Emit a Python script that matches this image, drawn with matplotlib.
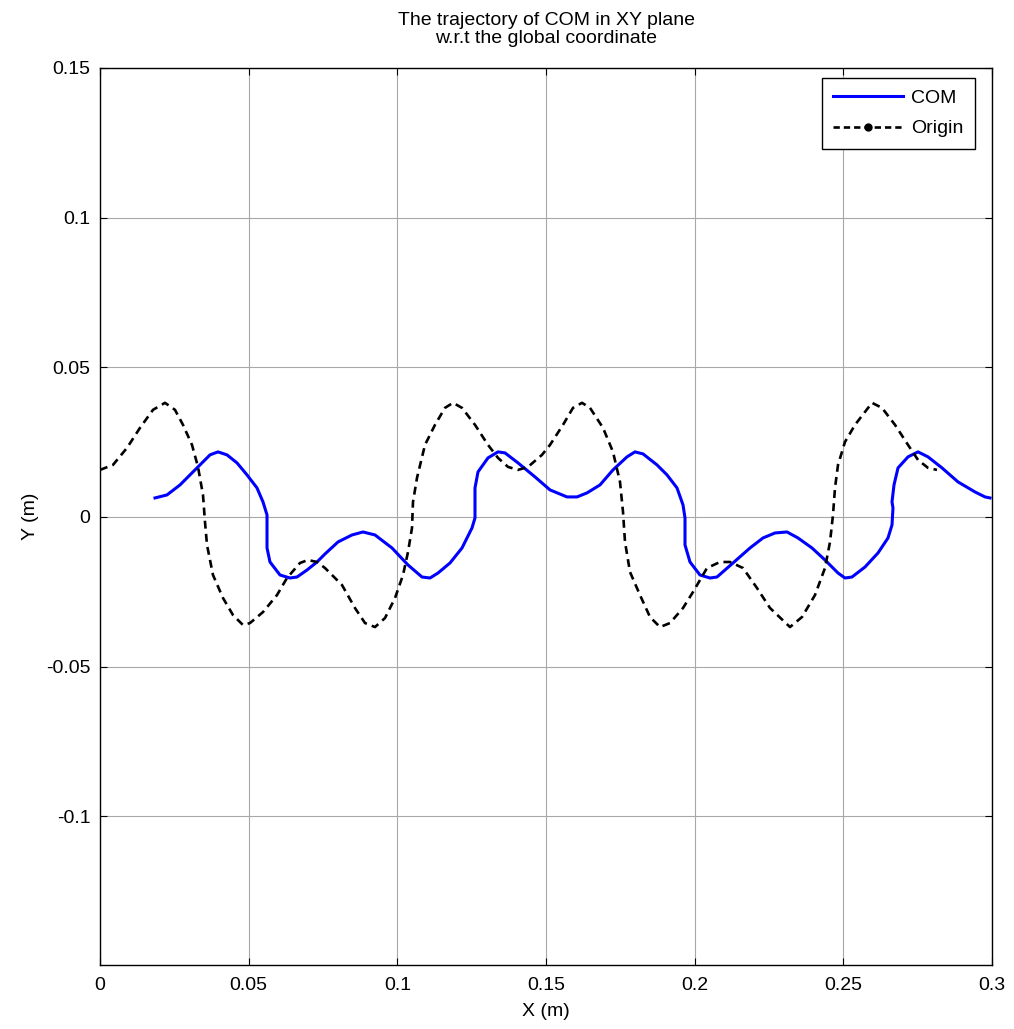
import numpy as np
import matplotlib.pyplot as plt
from matplotlib.lines import Line2D

plt.rcParams['font.family'] = ['Liberation Sans', 'DejaVu Sans']

# origin trajectory (black dashed)
origin_x = [0.0, 0.00437, 0.00908, 0.01345, 0.01782, 0.02186, 0.02522, 0.02791, 0.03094, 0.03296,
            0.03464, 0.03531, 0.03599, 0.03800, 0.04137, 0.04473, 0.04809, 0.05045, 0.05482, 0.05953,
            0.06289, 0.06726, 0.06996, 0.07298, 0.07567, 0.08139, 0.08576, 0.08913, 0.09249, 0.09585,
            0.09922, 0.10191, 0.10359, 0.10493, 0.10527, 0.10661, 0.10930, 0.11267, 0.11603, 0.11872,
            0.12175, 0.12612, 0.13049, 0.13386, 0.13722, 0.14058, 0.14395, 0.14865, 0.15135, 0.15572,
            0.15908, 0.16211, 0.16480, 0.16917, 0.17253, 0.17489, 0.17590, 0.17657, 0.17825, 0.18161,
            0.18498, 0.18834, 0.19170, 0.19608, 0.19944, 0.20415, 0.20852, 0.21188, 0.21625, 0.22096,
            0.22534, 0.23206, 0.23610, 0.24047, 0.24383, 0.24552, 0.24652, 0.24720, 0.24821, 0.25056,
            0.25392, 0.25964, 0.26300, 0.26738, 0.27175, 0.27511, 0.27848, 0.28150]
origin_y = [0.01572, 0.01739, 0.02308, 0.02977, 0.03579, 0.03813, 0.03579, 0.03077, 0.02408, 0.01672,
            0.00736, -0.00167, -0.00936, -0.01940, -0.02709, -0.03278, -0.03612, -0.03545, -0.03177, -0.02609,
            -0.02040, -0.01538, -0.01438, -0.01505, -0.01706, -0.02274, -0.03043, -0.03545, -0.03679, -0.03378,
            -0.02709, -0.01940, -0.01171, -0.00368, 0.00502, 0.01304, 0.02408, 0.03077, 0.03645, 0.03813,
            0.03645, 0.03077, 0.02408, 0.01973, 0.01672, 0.01572, 0.01672, 0.02074, 0.02408, 0.03077,
            0.03645, 0.03813, 0.03645, 0.02977, 0.02174, 0.01171, 0.00167, -0.00836, -0.01839, -0.02609,
            -0.03344, -0.03679, -0.03545, -0.03043, -0.02508, -0.01706, -0.01505, -0.01505, -0.01706, -0.02375,
            -0.03043, -0.03679, -0.03344, -0.02609, -0.01706, -0.00836, 0.00067, 0.00970, 0.01739, 0.02508,
            0.03077, 0.03813, 0.03645, 0.03077, 0.02408, 0.01906, 0.01639, 0.01572]

# COM trajectory (blue)
com_x = [0.01850, 0.02253, 0.02691, 0.03027, 0.03363, 0.03700, 0.03969, 0.04271, 0.04608, 0.04944,
         0.05280, 0.05482, 0.05617, 0.05617, 0.05717, 0.06054, 0.06390, 0.06626, 0.06962, 0.07298,
         0.07567, 0.08004, 0.08475, 0.08845, 0.09249, 0.09821, 0.10359, 0.10830, 0.11099, 0.11368,
         0.11771, 0.12175, 0.12511, 0.12612, 0.12612, 0.12713, 0.13049, 0.13386, 0.13621, 0.14058,
         0.14630, 0.15135, 0.15706, 0.16043, 0.16379, 0.16816, 0.17253, 0.17724, 0.17993, 0.18262,
         0.18733, 0.19070, 0.19406, 0.19608, 0.19675, 0.19675, 0.19843, 0.20179, 0.20516, 0.20751,
         0.21289, 0.21861, 0.22298, 0.22702, 0.23105, 0.23475, 0.23946, 0.24383, 0.24821, 0.25056,
         0.25291, 0.25729, 0.26166, 0.26502, 0.26637, 0.26670, 0.26637, 0.26704, 0.26839, 0.27175,
         0.27511, 0.27848, 0.28318, 0.28856, 0.29428, 0.29764, 0.29933]
com_y = [0.00635, 0.00736, 0.01070, 0.01405, 0.01739, 0.02074, 0.02174, 0.02074, 0.01806, 0.01405,
         0.00970, 0.00502, 0.00067, -0.01037, -0.01505, -0.01940, -0.02040, -0.02007, -0.01773, -0.01505,
         -0.01237, -0.00836, -0.00602, -0.00502, -0.00602, -0.01037, -0.01605, -0.02007, -0.02040, -0.01873,
         -0.01538, -0.01037, -0.00368, -0.00033, 0.00970, 0.01505, 0.01973, 0.02174, 0.02140, 0.01806,
         0.01338, 0.00903, 0.00669, 0.00669, 0.00803, 0.01070, 0.01572, 0.02007, 0.02174, 0.02107,
         0.01739, 0.01405, 0.00970, 0.00401, -0.00033, -0.00936, -0.01505, -0.01940, -0.02040, -0.02007,
         -0.01538, -0.01037, -0.00702, -0.00535, -0.00502, -0.00702, -0.01037, -0.01438, -0.01873, -0.02040,
         -0.02007, -0.01672, -0.01204, -0.00702, -0.00268, 0.00301, 0.00502, 0.01070, 0.01639, 0.02007,
         0.02174, 0.02007, 0.01639, 0.01171, 0.00836, 0.00669, 0.00635]

xticks = [0, 0.05, 0.1, 0.15, 0.2, 0.25, 0.3]
xticklabels = ['0', '0.05', '0.1', '0.15', '0.2', '0.25', '0.3']
yticks = [-0.1, -0.05, 0, 0.05, 0.1, 0.15]
yticklabels = ['-0.1', '-0.05', '0', '0.05', '0.1', '0.15']

fs = 14

fig = plt.figure(figsize=(10.14, 10.29), dpi=100)
ax = fig.add_axes([100/1014, 1 - 965/1029, 892/1014, 897/1029])

ax.plot(com_x, com_y, color='#0000ff', lw=2.2, label='COM')
ax.plot(origin_x, origin_y, color='black', lw=1.9, ls=(0, (3.0, 2.0)))

ax.set_xlim(0, 0.3)
ax.set_ylim(-0.1497, 0.15)
ax.set_xticks(xticks)
ax.set_xticklabels(xticklabels)
ax.set_yticks(yticks)
ax.set_yticklabels(yticklabels)
ax.tick_params(direction='in', top=True, right=True, labelsize=fs, length=5)
ax.tick_params(axis='x', pad=9)
ax.tick_params(axis='y', pad=7)
ax.grid(True, color='#a8a8a8', lw=0.8)
for s in ax.spines.values():
    s.set_linewidth(1.0)

ax.set_xlabel('X (m)', fontsize=fs, labelpad=6)
ax.set_ylabel('Y (m)', fontsize=fs, labelpad=5)
ax.set_title('The trajectory of COM in XY plane\nw.r.t the global coordinate', fontsize=fs,
             pad=18, linespacing=1.1)

handles = [Line2D([], [], color='#0000ff', lw=2.2),
           Line2D([], [], color='black', lw=1.9, ls=(0, (2.4, 1.5)), marker='o', ms=5)]
leg = ax.legend(handles, ['COM', 'Origin'], loc='upper right', fontsize=fs, fancybox=False,
                edgecolor='black', framealpha=1, borderaxespad=0, handlelength=3.6,
                labelspacing=0.65, borderpad=0.6, handletextpad=0.4,
                bbox_to_anchor=(0.981, 0.989))
leg.get_frame().set_linewidth(1.0)

fig.savefig('out.png', dpi=100)
